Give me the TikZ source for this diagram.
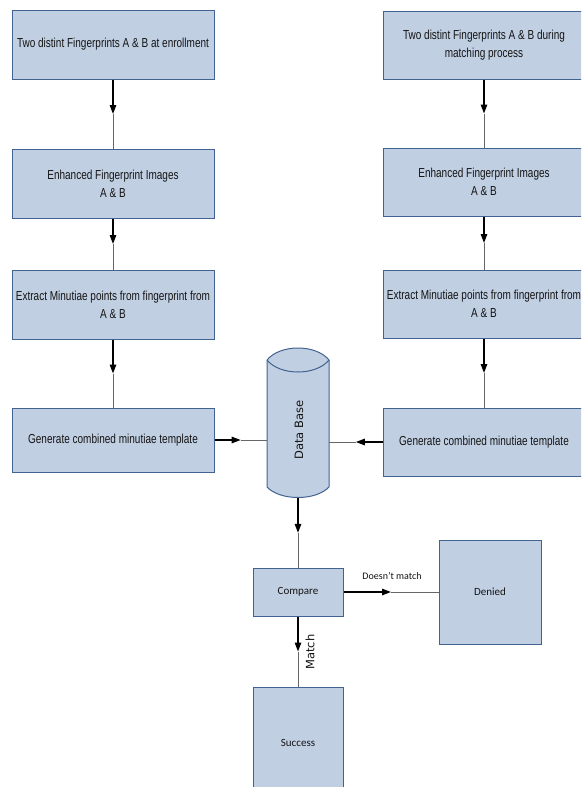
\documentclass[tikz,border=0pt]{standalone}
\usepackage{fontspec}
\newfontfamily\narrowfont{Liberation Sans}[FakeStretch=0.77]
\newfontfamily\calfont{Carlito}
\newfontfamily\dvfont{DejaVu Sans}
\usetikzlibrary{calc,arrows.meta}
\definecolor{boxfill}{RGB}{193,207,227}
\definecolor{boxline}{RGB}{66,99,146}
\definecolor{txt}{RGB}{20,20,20}
\tikzset{
  procbox/.style={draw=boxline, fill=boxfill, line width=1pt, minimum width=202pt, minimum height=68pt,
    inner sep=0pt, align=center, text=txt, font=\narrowfont\fontsize{13}{18}\selectfont},
  smallbox/.style={draw=boxline, fill=boxfill, line width=1pt, inner sep=0pt, text=txt,
    font=\calfont\fontsize{11}{13}\selectfont},
  blk/.style={draw=black, line width=1.3pt, -{Triangle[length=9pt,width=6.5pt]}},
  gry/.style={draw=gray!80!black, line width=0.8pt},
  lbl/.style={text=txt, inner sep=0pt}
}
\newcommand\flowline[2]{%
  \draw[blk] (#1) -- ($(#1)!0.5!(#2)$);
  \draw[gry] ($(#1)!0.5!(#2)$) -- (#2);}
\begin{document}
\begin{tikzpicture}[x=1pt,y=-1pt]
\useasboundingbox (0,0) rectangle (581,787);
\clip (0,0) rectangle (581,787);
% left column
\node[procbox, minimum height=69pt] (L1) at (113,44.5) {Two distint Fingerprints A \& B at enrollment};
\node[procbox, minimum height=69pt] (L2) at (113,183.5) {Enhanced Fingerprint Images\\A \& B};
\node[procbox, minimum height=69pt] (L3) at (113,304.5) {Extract Minutiae points from fingerprint from\\A \& B};
\node[procbox, minimum height=64pt] (L4) at (113,440) {Generate combined minutiae template};
% right column
\node[procbox] (R1) at (484,45) {Two distint Fingerprints A \& B during\\matching process};
\node[procbox] (R2) at (484,182) {Enhanced Fingerprint Images\\A \& B};
\node[procbox] (R3) at (484,304) {Extract Minutiae points from fingerprint from\\A \& B};
\node[procbox] (R4) at (484,442) {Generate combined minutiae template};
% database
\node[minimum width=62pt, minimum height=150pt, inner sep=0pt] (db) at (298,423) {};
\draw[draw=boxline, fill=boxfill, line width=1pt]
  (267,360) -- (267,487) .. controls (280,501) and (316,501) .. (329,487)
  -- (329,360) .. controls (316,344) and (280,344) .. (267,360) -- cycle;
\draw[draw=boxline, line width=1pt] (267,360) .. controls (280,376) and (316,376) .. (329,360);
\node[lbl, rotate=90, font=\dvfont\fontsize{11.5}{13}\selectfont] (dbtext) at (299,430) {Data Base};
% decision part
\node[smallbox, minimum width=90pt, minimum height=48pt] (cmp) at (298,592) {Compare};
\node[smallbox, minimum width=102pt, minimum height=104pt] (den) at (490,592) {Denied};
\node[smallbox, minimum width=90pt, minimum height=112pt] (suc) at (298,743) {Success};
% connectors
\flowline{L1.south}{L2.north}
\flowline{L2.south}{L3.north}
\flowline{L3.south}{L4.north}
\flowline{R1.south}{R2.north}
\flowline{R2.south}{R3.north}
\flowline{R3.south}{R4.north}
\coordinate (dbL) at (L4.east -| db.west);
\coordinate (dbR) at (R4.west -| db.east);
\flowline{L4.east}{dbL}
\flowline{R4.west}{dbR}
\flowline{db.south}{cmp.north}
\flowline{cmp.east}{den.west}
\flowline{cmp.south}{suc.north}
\node[lbl, font=\calfont\fontsize{10}{12}\selectfont] (nomatch) at (392,576) {Doesn’t match};
\node[lbl, rotate=90, font=\dvfont\fontsize{11.5}{13}\selectfont] (match) at (310,652) {Match};
\end{tikzpicture}
\end{document}
